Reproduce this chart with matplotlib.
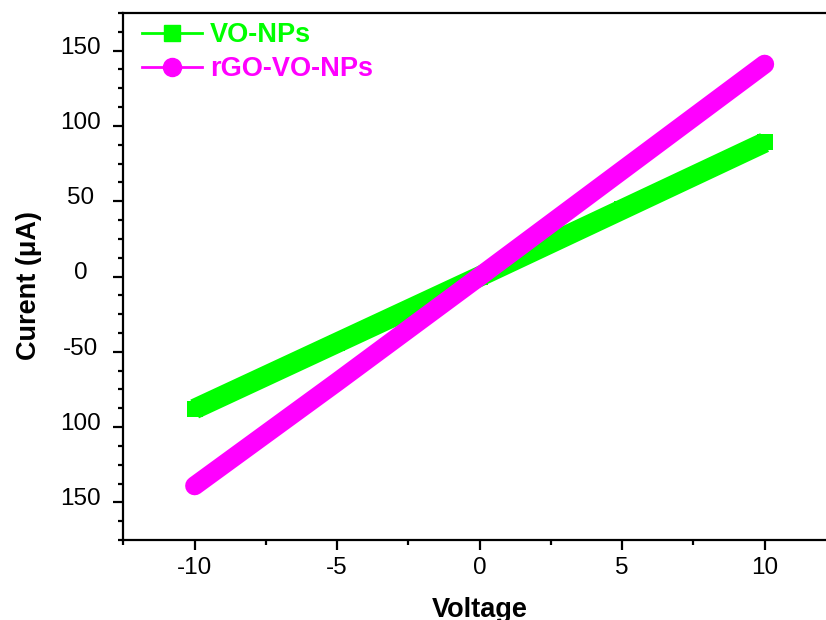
import matplotlib
matplotlib.use("Agg")
import matplotlib.pyplot as plt
from matplotlib.lines import Line2D
from matplotlib.ticker import MultipleLocator, FixedLocator
import matplotlib.transforms as mtransforms

plt.rcParams['font.family'] = ['Liberation Sans', 'DejaVu Sans']

# ---- data ----
voltage = [-10, -5, 0, 5, 10]
vo_nps = [-88, -44, 0, 44.5, 89]
rgo_vo_nps = [-139, -70, 0, 70.5, 141]
series_names = ["VO-NPs", "rGO-VO-NPs"]
x_ticks = [-10, -5, 0, 5, 10]
x_tick_labels = ["-10", "-5", "0", "5", "10"]
y_ticks = [-150, -100, -50, 0, 50, 100, 150]
y_tick_labels = ["150", "100", "-50", "0", "50", "100", "150"]

green = "#00FF00"
magenta = "#FF00FF"

fig = plt.figure(figsize=(8.26, 6.2), dpi=100)
W, H = 826, 620
left_px, bottom_px, width_px, height_px = 123.4, 80, 712.5, 527
ax = fig.add_axes([left_px / W, bottom_px / H, width_px / W, height_px / H])

ax.plot(voltage, vo_nps, color=green, lw=14.8, solid_capstyle='butt',
        marker='s', ms=11, mew=0, zorder=2)
ax.plot(voltage, rgo_vo_nps, color=magenta, lw=13.7, solid_capstyle='round',
        zorder=3)

ax.set_xlim(-12.5, 12.5)
ax.set_ylim(-175, 175)

ax.xaxis.set_major_locator(FixedLocator(x_ticks))
ax.set_xticklabels(x_tick_labels)
ax.xaxis.set_minor_locator(MultipleLocator(2.5))
ax.yaxis.set_major_locator(FixedLocator(y_ticks))
ax.set_yticklabels(y_tick_labels)
ax.yaxis.set_minor_locator(MultipleLocator(12.5))

for s in ax.spines.values():
    s.set_linewidth(1.6)
ax.spines['right'].set_visible(False)

ax.tick_params(axis='both', which='major', direction='out', length=7.2,
               width=1.6, labelsize=17.5, top=False, right=False)
ax.tick_params(axis='both', which='minor', direction='out', length=3.6,
               width=1.6, top=False, right=False)
ax.tick_params(axis='x', which='major', pad=5)
ax.tick_params(axis='y', which='major', pad=23.5)

offset = mtransforms.ScaledTranslation(0, 4 / 72, fig.dpi_scale_trans)
for lab in ax.get_yticklabels():
    lab.set_horizontalalignment('center')
    lab.set_transform(lab.get_transform() + offset)

ax.set_xlabel("Voltage", fontsize=19.5, fontweight='bold')
ax.set_ylabel("Curent (\u03bcA)", fontsize=19.5, fontweight='bold')
ax.xaxis.set_label_coords(0.5, -(597 - 540) / height_px)
ax.yaxis.set_label_coords(-(left_px - 42) / width_px, (540 - 285) / height_px)

handles = [
    Line2D([], [], color=green, lw=2, marker='s', ms=11),
    Line2D([], [], color=magenta, lw=2, marker='o', ms=13),
]
leg = ax.legend(handles, series_names, loc='upper left',
                bbox_to_anchor=(19 / width_px, 1 - 9 / height_px),
                frameon=False, borderpad=0, borderaxespad=0,
                handlelength=2.2, handletextpad=0.3, labelspacing=0.3,
                prop={'size': 19.5, 'weight': 'bold'}, labelcolor='linecolor')

fig.savefig("out.png", dpi=100)
